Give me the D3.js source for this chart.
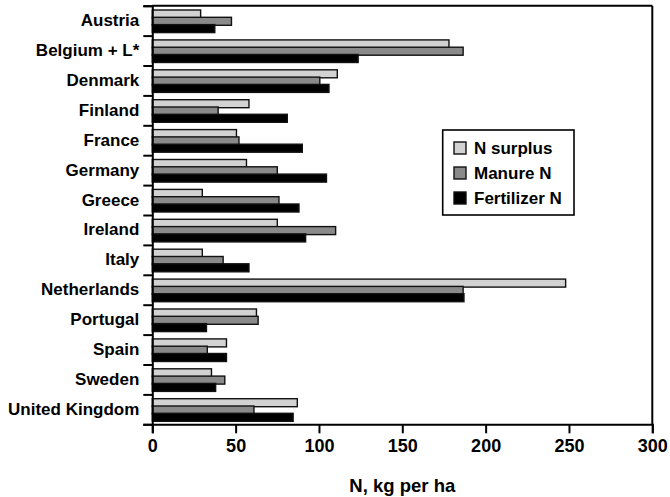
<!DOCTYPE html>
<html>
<head>
<meta charset="utf-8">
<script src="https://cdn.jsdelivr.net/npm/d3@7"></script>
<style>
  html, body { margin: 0; padding: 0; background: #fff; }
  svg { display: block; font-family: "Liberation Sans", Arial, sans-serif; }
</style>
</head>
<body>
<svg id="chart" width="670" height="497"></svg>
<script>
const categories = ["Austria", "Belgium + L*", "Denmark", "Finland", "France", "Germany", "Greece",
  "Ireland", "Italy", "Netherlands", "Portugal", "Spain", "Sweden", "United Kingdom"];
const seriesNames = ["N surplus", "Manure N", "Fertilizer N"];
const nSurplus   = [29, 178, 111, 58, 50.5, 56.5, 30, 75, 30, 248, 62.5, 44.5, 35.5, 87];
const manureN    = [47.5, 186.5, 100.5, 39.5, 52, 75, 76, 110, 42.5, 186.5, 63.5, 33, 43.5, 61];
const fertilizerN = [37.5, 123.5, 106, 81, 90, 104.5, 88, 92, 58, 187, 32.5, 44.5, 38, 84.5];
const xTicks = [0, 50, 100, 150, 200, 250, 300];
const seriesColors = ["#d2d2d2", "#8a8a8a", "#000000"];

const series = [nSurplus, manureN, fertilizerN];

const svg = d3.select("#chart");
const mLeft = 152.3, mRight = 652.3, mTop = 5.7, mBottom = 424.3;

const x = d3.scaleLinear().domain([0, 300]).range([mLeft, mRight]);
const y = d3.scaleBand().domain(categories).range([mTop, mBottom]).paddingInner(0).paddingOuter(0);
const yEdge = d3.scaleLinear().domain([0, categories.length]).range([mTop, mBottom]);

// bars
const barH = 8, step = 7.3, offset = 4.3;
series.forEach((vals, si) => {
  svg.append("g").selectAll("rect")
    .data(categories.map((c, i) => ({ c, v: vals[i] })))
    .join("rect")
    .attr("x", x(0))
    .attr("y", d => y(d.c) + offset + si * step)
    .attr("width", d => x(d.v) - x(0))
    .attr("height", barH)
    .attr("fill", seriesColors[si])
    .attr("stroke", "#111")
    .attr("stroke-width", 1.4);
});

// frame top & right
svg.append("line").attr("x1", mLeft).attr("x2", mRight).attr("y1", mTop).attr("y2", mTop)
  .attr("stroke", "#000").attr("stroke-width", 2);
svg.append("line").attr("x1", mRight).attr("x2", mRight).attr("y1", mTop).attr("y2", mBottom)
  .attr("stroke", "#000").attr("stroke-width", 2);

// x axis
const xAxis = svg.append("g").attr("transform", `translate(0,${mBottom})`)
  .call(d3.axisBottom(x).tickValues(xTicks).tickSize(9).tickPadding(6).tickFormat(d3.format("d")));
xAxis.select(".domain").attr("stroke", "#000").attr("stroke-width", 2);
xAxis.selectAll(".tick line").attr("stroke", "#000").attr("stroke-width", 2);
xAxis.selectAll(".tick text").attr("font-size", 18).attr("font-weight", "bold").attr("fill", "#000")
  .attr("font-family", "Liberation Sans, Arial, sans-serif");

// y axis: ticks at band edges
const yAxisEdges = svg.append("g").attr("transform", `translate(${mLeft},0)`)
  .call(d3.axisLeft(yEdge).tickValues(d3.range(0, categories.length + 1)).tickSize(9).tickFormat(""));
yAxisEdges.select(".domain").attr("stroke", "#000").attr("stroke-width", 2);
yAxisEdges.selectAll(".tick line").attr("stroke", "#000").attr("stroke-width", 2);

// y labels
const yAxisLabels = svg.append("g").attr("transform", `translate(${mLeft},0)`)
  .call(d3.axisLeft(y).tickSize(0).tickPadding(13));
yAxisLabels.select(".domain").remove();
yAxisLabels.selectAll(".tick text").attr("font-size", 17).attr("font-weight", "bold").attr("fill", "#000")
  .attr("font-family", "Liberation Sans, Arial, sans-serif");

// x title
svg.append("text").attr("x", (mLeft + mRight) / 2).attr("y", 492)
  .attr("text-anchor", "middle").attr("font-size", 18.5).attr("font-weight", "bold")
  .text("N, kg per ha");

// legend
const lg = svg.append("g");
lg.append("rect").attr("x", 442.7).attr("y", 130).attr("width", 131.3).attr("height", 85)
  .attr("fill", "#fff").attr("stroke", "#000").attr("stroke-width", 1.6);
const rowsY = [148, 173, 198];
seriesNames.forEach((n, i) => {
  lg.append("rect").attr("x", 454).attr("y", rowsY[i] - 6).attr("width", 12).attr("height", 12)
    .attr("fill", seriesColors[i]).attr("stroke", "#111").attr("stroke-width", 1.4);
  lg.append("text").attr("x", 474).attr("y", rowsY[i]).attr("dy", "0.36em")
    .attr("font-size", 17).attr("font-weight", "bold").text(n);
});
</script>
</body>
</html>
